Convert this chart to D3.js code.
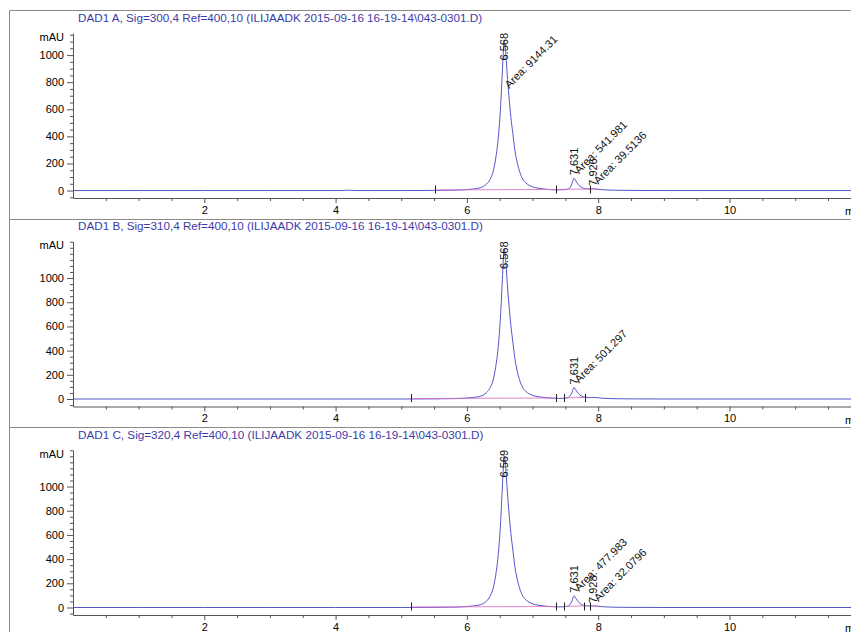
<!DOCTYPE html>
<html>
<head>
<meta charset="utf-8">
<script src="https://cdn.jsdelivr.net/npm/d3@7"></script>
<style>
  body { margin: 0; background: #fff; }
  svg { display: block; font-family: "Liberation Sans", Arial, sans-serif; }
</style>
</head>
<body>
<svg id="chart" width="851" height="632"></svg>
<script>
// ---- Signal titles ----
const titles = [
  "DAD1 A, Sig=300,4 Ref=400,10 (ILIJAADK 2015-09-16 16-19-14\\043-0301.D)",
  "DAD1 B, Sig=310,4 Ref=400,10 (ILIJAADK 2015-09-16 16-19-14\\043-0301.D)",
  "DAD1 C, Sig=320,4 Ref=400,10 (ILIJAADK 2015-09-16 16-19-14\\043-0301.D)"
];

// ---- Axis ticks ----
const xMajorTicks = [2, 4, 6, 8, 10];
const yMajorTicks = [0, 200, 400, 600, 800, 1000];
const xUnit = "min";
const yUnit = "mAU";

// ---- Detector traces: [time (min), absorbance (mAU)] ----
const traceA = [
  [0,0],[1,0],[2,0],[3,0],[4.1,0],[4.2,3],[4.3,0],[5.0,0],[5.5,1],[5.8,3],[6.0,7],
  [6.1,12],[6.2,20],[6.25,30],[6.3,48],[6.35,80],[6.4,140],[6.44,240],[6.47,350],
  [6.5,520],[6.52,680],[6.54,880],[6.555,1030],[6.568,1107],[6.58,1080],[6.6,960],
  [6.62,820],[6.64,700],[6.67,540],[6.7,420],[6.73,300],[6.77,200],[6.81,130],
  [6.85,85],[6.9,55],[6.95,38],[7.0,27],[7.1,16],[7.2,10],[7.3,6],[7.4,5],[7.48,6],
  [7.53,10],[7.57,22],[7.6,50],[7.631,91],[7.65,80],[7.68,55],[7.72,32],[7.77,18],
  [7.83,12],[7.88,11],[7.926,13],[7.97,11],[8.05,7],[8.15,4],[8.3,2],[8.5,1],[9,0],[12,0]
];
const traceB = [
  [0,0],[1,0],[2,0],[3,0],[4,0],[5.0,0],[5.5,1],[5.8,3],[6.0,8],
  [6.1,13],[6.2,22],[6.25,33],[6.3,54],[6.35,90],[6.4,157],[6.44,270],[6.47,393],
  [6.5,583],[6.52,763],[6.54,987],[6.555,1155],[6.568,1242],[6.58,1212],[6.6,1077],
  [6.62,920],[6.64,785],[6.67,606],[6.7,471],[6.73,337],[6.77,224],[6.81,146],
  [6.85,95],[6.9,62],[6.95,43],[7.0,30],[7.1,18],[7.2,11],[7.3,7],[7.4,5],[7.48,6],
  [7.53,11],[7.57,24],[7.6,53],[7.631,96],[7.65,84],[7.68,58],[7.72,34],[7.77,19],
  [7.83,13],[7.88,12],[7.93,14],[7.98,11],[8.05,7],[8.15,4],[8.3,2],[8.5,1],[9,0],[12,0]
];
const traceC = [
  [0,0],[1,0],[2,0],[3,0],[4,0],[5.0,0],[5.5,1],[5.8,3],[6.0,8],
  [6.1,13],[6.2,22],[6.25,33],[6.3,54],[6.35,91],[6.4,159],[6.44,272],[6.47,397],
  [6.5,589],[6.52,770],[6.54,997],[6.556,1165],[6.569,1254],[6.58,1226],[6.6,1088],
  [6.62,929],[6.64,793],[6.67,612],[6.7,476],[6.73,340],[6.77,227],[6.81,147],
  [6.85,96],[6.9,62],[6.95,43],[7.0,30],[7.1,18],[7.2,11],[7.3,7],[7.4,5],[7.48,6],
  [7.53,11],[7.57,24],[7.6,53],[7.631,97],[7.65,85],[7.68,58],[7.72,34],[7.77,19],
  [7.83,13],[7.88,12],[7.928,13],[7.98,11],[8.05,7],[8.15,4],[8.3,2],[8.5,1],[9,0],[12,0]
];

// ---- Integration baselines: [start, level, end, level] (min, mAU) ----
const baselinesA = [[5.51, 1, 7.35, 4], [7.35, 4, 7.87, 8], [7.87, 8, 8.0, 6]];
const baselinesB = [[5.15, 0, 7.35, 4], [7.48, 5, 7.80, 9]];
const baselinesC = [[5.15, 0, 7.35, 4], [7.48, 5, 7.78, 9], [7.87, 9, 8.0, 7]];

// ---- Integration event marks (min) ----
const marksA = [5.51, 7.35, 7.87];
const marksB = [5.15, 7.35, 7.48, 7.80];
const marksC = [5.15, 7.35, 7.48, 7.78, 7.87];

// ---- Peak annotations ----
const peaksA = [
  { rt: 6.568, label: "6.568", area: "9144.31" },
  { rt: 7.631, label: "7.631", area: "541.981" },
  { rt: 7.926, label: "7.926", area: "39.5136" }
];
const peaksB = [
  { rt: 6.568, label: "6.568", area: null },
  { rt: 7.631, label: "7.631", area: "501.297" }
];
const peaksC = [
  { rt: 6.569, label: "6.569", area: null },
  { rt: 7.631, label: "7.631", area: "477.983" },
  { rt: 7.928, label: "7.928", area: "32.0796" }
];

// y-range shown in each signal (mAU)
const yRanges = [[-55, 1163], [-62, 1302], [-62, 1302]];

const panels = [
  { title: titles[0], trace: traceA, baselines: baselinesA, marks: marksA, peaks: peaksA, yr: yRanges[0] },
  { title: titles[1], trace: traceB, baselines: baselinesB, marks: marksB, peaks: peaksB, yr: yRanges[1] },
  { title: titles[2], trace: traceC, baselines: baselinesC, marks: marksC, peaks: peaksC, yr: yRanges[2] }
];

const W = 851, H = 632;
const svg = d3.select("#chart");
const frameColor = "#8a8a8a";
const traceColor = "#5656c8";
const baseColor = "#e070c4";
const axisColor = "#555";
const titleColor = "#3c3ca8";

const panelTops = [10, 218.5, 427];
const plotLeft = 73;
const x = d3.scaleLinear().domain([0, 12]).range([plotLeft, plotLeft + 12 * 65.65]);

// outer frame and separators
svg.append("line").attr("x1", 9.5).attr("x2", 9.5).attr("y1", 10.5).attr("y2", H)
  .attr("stroke", frameColor);
panelTops.forEach(top => {
  svg.append("line").attr("x1", 9.5).attr("x2", W).attr("y1", Math.round(top) + 0.5).attr("y2", Math.round(top) + 0.5)
    .attr("stroke", frameColor);
});

panels.forEach((p, i) => {
  const top = panelTops[i];
  const plotTop = top + 23;
  const axisY = top + 188;
  const y = d3.scaleLinear().domain(p.yr).range([axisY, plotTop]);
  const g = svg.append("g");

  // title
  g.append("text").attr("x", 78).attr("y", top + 11.5)
    .attr("font-size", 11.7).attr("fill", titleColor).text(p.title);

  // x axis: minor then major ticks
  const xMinor = d3.range(0.5, 12.01, 0.5).filter(v => !xMajorTicks.includes(v));
  const xa1 = g.append("g").attr("transform", `translate(0,${axisY})`)
    .call(d3.axisBottom(x).tickValues(xMinor).tickSize(3).tickSizeOuter(0).tickFormat(""));
  const xa2 = g.append("g").attr("transform", `translate(0,${axisY})`)
    .call(d3.axisBottom(x).tickValues(xMajorTicks).tickSize(5).tickSizeOuter(0).tickPadding(3).tickFormat(d3.format("d")));
  xa2.select(".domain").remove();
  g.append("text").attr("x", 845).attr("y", axisY + 17).attr("font-size", 11).attr("fill", "#000").text(xUnit);

  // y axis
  const yMinor = d3.range(-50, p.yr[1], 50).filter(v => v >= p.yr[0] && !yMajorTicks.includes(v));
  const ya1 = g.append("g").attr("transform", `translate(${plotLeft},0)`)
    .call(d3.axisLeft(y).tickValues(yMinor).tickSize(3).tickSizeOuter(0).tickFormat(""));
  const ya2 = g.append("g").attr("transform", `translate(${plotLeft},0)`)
    .call(d3.axisLeft(y).tickValues(yMajorTicks).tickSize(6).tickSizeOuter(0).tickPadding(3).tickFormat(d3.format("d")));
  ya2.select(".domain").remove();
  g.append("text").attr("x", plotLeft - 9).attr("y", top + 27).attr("dy", "0.32em")
    .attr("text-anchor", "end").attr("font-size", 11).attr("fill", "#000").text(yUnit);

  [xa1, xa2, ya1, ya2].forEach(a => {
    a.selectAll("path,line").attr("stroke", axisColor);
    a.selectAll("text").attr("font-size", 11).attr("fill", "#000")
      .attr("font-family", "'Liberation Sans', Arial, sans-serif");
  });

  // trace
  const line = d3.line().x(d => x(d[0])).y(d => y(d[1])).curve(d3.curveMonotoneX);
  g.append("path").datum(p.trace).attr("d", line)
    .attr("fill", "none").attr("stroke", traceColor).attr("stroke-width", 1);

  // integration baselines
  p.baselines.forEach(b => {
    g.append("line").attr("x1", x(b[0])).attr("y1", y(b[1]) - 0.5).attr("x2", x(b[2])).attr("y2", y(b[3]) - 0.5)
      .attr("stroke", baseColor).attr("stroke-width", 1).attr("stroke-opacity", 0.85);
  });

  // event marks
  p.marks.forEach(m => {
    g.append("line").attr("x1", Math.round(x(m)) + 0.5).attr("x2", Math.round(x(m)) + 0.5)
      .attr("y1", y(0) - 5).attr("y2", y(0) + 3).attr("stroke", "#222");
  });

  // peak labels
  const peakValue = rt => {
    const pt = p.trace.reduce((a, d) => Math.abs(d[0] - rt) < Math.abs(a[0] - rt) ? d : a);
    return pt[1];
  };
  p.peaks.forEach(pk => {
    const px = x(pk.rt), py = y(peakValue(pk.rt));
    const t = g.append("text").attr("font-size", 11).attr("fill", "#111").text(pk.label);
    const len = t.node().getComputedTextLength();
    const bottom = Math.max(py - 3, plotTop + len);
    t.attr("transform", `translate(${px},${bottom}) rotate(-90)`).attr("dy", "0.35em");
    if (pk.area) {
      const a = g.append("text").attr("font-size", 11).attr("fill", "#111").text("Area: " + pk.area);
      const alen = a.node().getComputedTextLength();
      const sy = Math.max(py - 4, plotTop + alen * Math.SQRT1_2 + 7);
      a.attr("transform", `translate(${px + 5},${sy}) rotate(-45)`);
    }
  });
});
</script>
</body>
</html>
